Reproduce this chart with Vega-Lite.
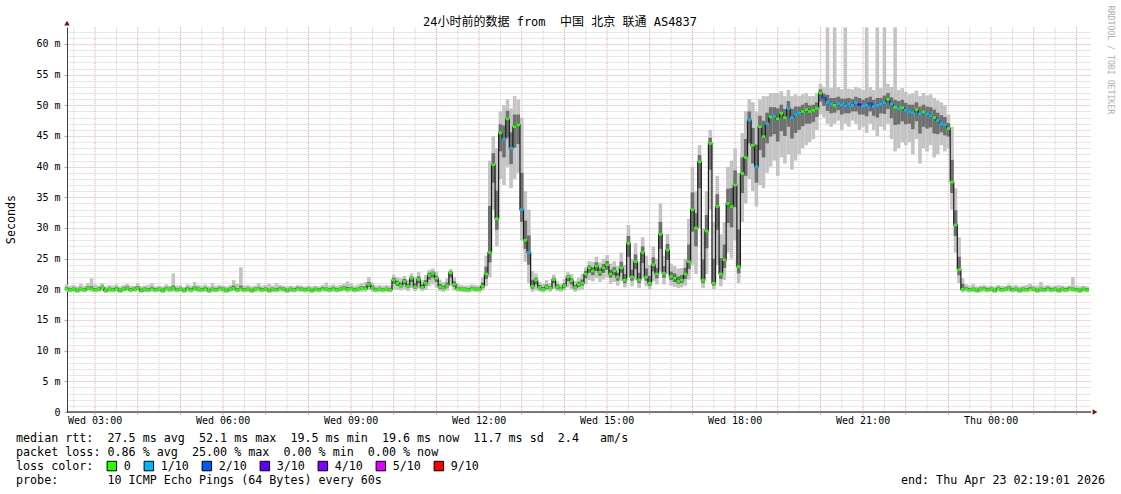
{
"$schema":"https://vega.github.io/schema/vega-lite/v6.json",
"width":1024,"height":385,"autosize":"none",
"padding":{"left":67,"top":27,"right":30,"bottom":82},
"background":"#ffffff",
"title":{"text":"24小时前的数据 from\u00a0\u00a0中国 北京 联通 AS4837","anchor":"middle","frame":"group","dx":-19,"dy":32,"offset":0,"baseline":"alphabetic","font":"DejaVu Sans Mono, Noto Sans CJK SC","fontSize":12,"fontWeight":"normal","color":"#000000"},
"config":{"view":{"stroke":null}},
"datasets":{
"gh":[{"t":"2026-04-22T03:00Z"},{"t":"2026-04-22T04:00Z"},{"t":"2026-04-22T05:00Z"},{"t":"2026-04-22T06:00Z"},{"t":"2026-04-22T07:00Z"},{"t":"2026-04-22T08:00Z"},{"t":"2026-04-22T09:00Z"},{"t":"2026-04-22T10:00Z"},{"t":"2026-04-22T11:00Z"},{"t":"2026-04-22T12:00Z"},{"t":"2026-04-22T13:00Z"},{"t":"2026-04-22T14:00Z"},{"t":"2026-04-22T15:00Z"},{"t":"2026-04-22T16:00Z"},{"t":"2026-04-22T17:00Z"},{"t":"2026-04-22T18:00Z"},{"t":"2026-04-22T19:00Z"},{"t":"2026-04-22T20:00Z"},{"t":"2026-04-22T21:00Z"},{"t":"2026-04-22T22:00Z"},{"t":"2026-04-22T23:00Z"},{"t":"2026-04-23T00:00Z"},{"t":"2026-04-23T01:00Z"},{"t":"2026-04-23T02:00Z"}],
"gm":[{"t":"2026-04-22T02:30Z"},{"t":"2026-04-22T03:30Z"},{"t":"2026-04-22T04:30Z"},{"t":"2026-04-22T05:30Z"},{"t":"2026-04-22T06:30Z"},{"t":"2026-04-22T07:30Z"},{"t":"2026-04-22T08:30Z"},{"t":"2026-04-22T09:30Z"},{"t":"2026-04-22T10:30Z"},{"t":"2026-04-22T11:30Z"},{"t":"2026-04-22T12:30Z"},{"t":"2026-04-22T13:30Z"},{"t":"2026-04-22T14:30Z"},{"t":"2026-04-22T15:30Z"},{"t":"2026-04-22T16:30Z"},{"t":"2026-04-22T17:30Z"},{"t":"2026-04-22T18:30Z"},{"t":"2026-04-22T19:30Z"},{"t":"2026-04-22T20:30Z"},{"t":"2026-04-22T21:30Z"},{"t":"2026-04-22T22:30Z"},{"t":"2026-04-22T23:30Z"},{"t":"2026-04-23T00:30Z"},{"t":"2026-04-23T01:30Z"}],
"xl":[{"t":"2026-04-22T03:00Z","s":"Wed 03:00"},{"t":"2026-04-22T06:00Z","s":"Wed 06:00"},{"t":"2026-04-22T09:00Z","s":"Wed 09:00"},{"t":"2026-04-22T12:00Z","s":"Wed 12:00"},{"t":"2026-04-22T15:00Z","s":"Wed 15:00"},{"t":"2026-04-22T18:00Z","s":"Wed 18:00"},{"t":"2026-04-22T21:00Z","s":"Wed 21:00"},{"t":"2026-04-23T00:00Z","s":"Thu 00:00"}],
"d":[
{"t":"2026-04-22T02:20Z","m":20.1,"a":19.6,"b":20.8,"c":19.9,"d":20.4,"l":"0"},
{"t":"2026-04-22T02:25Z","m":19.9,"a":19.5,"b":20.6,"c":19.7,"d":20.2,"l":"0"},
{"t":"2026-04-22T02:30Z","m":20.0,"a":19.6,"b":20.7,"c":19.8,"d":20.3,"l":"0"},
{"t":"2026-04-22T02:35Z","m":19.8,"a":19.4,"b":20.5,"c":19.6,"d":20.1,"l":"0"},
{"t":"2026-04-22T02:40Z","m":20.0,"a":19.6,"b":20.9,"c":19.8,"d":20.3,"l":"0"},
{"t":"2026-04-22T02:45Z","m":19.9,"a":19.5,"b":20.6,"c":19.7,"d":20.2,"l":"0"},
{"t":"2026-04-22T02:50Z","m":20.2,"a":19.7,"b":21.0,"c":20.0,"d":20.5,"l":"0"},
{"t":"2026-04-22T02:55Z","m":20.1,"a":19.6,"b":21.8,"c":19.9,"d":20.5,"l":"0"},
{"t":"2026-04-22T03:00Z","m":19.9,"a":19.5,"b":20.8,"c":19.7,"d":20.2,"l":"0"},
{"t":"2026-04-22T03:05Z","m":20.0,"a":19.6,"b":20.6,"c":19.8,"d":20.3,"l":"0"},
{"t":"2026-04-22T03:10Z","m":20.3,"a":19.7,"b":21.0,"c":20.1,"d":20.6,"l":"0"},
{"t":"2026-04-22T03:15Z","m":19.8,"a":19.4,"b":20.5,"c":19.6,"d":20.1,"l":"0"},
{"t":"2026-04-22T03:20Z","m":20.0,"a":19.5,"b":20.7,"c":19.8,"d":20.3,"l":"0"},
{"t":"2026-04-22T03:25Z","m":19.9,"a":19.5,"b":20.6,"c":19.7,"d":20.2,"l":"0"},
{"t":"2026-04-22T03:30Z","m":20.1,"a":19.6,"b":20.8,"c":19.9,"d":20.4,"l":"0"},
{"t":"2026-04-22T03:35Z","m":19.8,"a":19.4,"b":20.5,"c":19.6,"d":20.1,"l":"0"},
{"t":"2026-04-22T03:40Z","m":20.0,"a":19.6,"b":20.7,"c":19.8,"d":20.3,"l":"0"},
{"t":"2026-04-22T03:45Z","m":20.2,"a":19.7,"b":20.9,"c":20.0,"d":20.5,"l":"0"},
{"t":"2026-04-22T03:50Z","m":19.9,"a":19.5,"b":20.6,"c":19.7,"d":20.2,"l":"0"},
{"t":"2026-04-22T03:55Z","m":20.0,"a":19.6,"b":20.6,"c":19.8,"d":20.3,"l":"0"},
{"t":"2026-04-22T04:00Z","m":20.2,"a":19.6,"b":21.0,"c":20.0,"d":20.5,"l":"0"},
{"t":"2026-04-22T04:05Z","m":19.8,"a":19.4,"b":20.5,"c":19.6,"d":20.1,"l":"0"},
{"t":"2026-04-22T04:10Z","m":20.0,"a":19.5,"b":20.6,"c":19.8,"d":20.3,"l":"0"},
{"t":"2026-04-22T04:15Z","m":19.9,"a":19.5,"b":20.7,"c":19.7,"d":20.2,"l":"0"},
{"t":"2026-04-22T04:20Z","m":20.1,"a":19.6,"b":21.0,"c":19.9,"d":20.4,"l":"0"},
{"t":"2026-04-22T04:25Z","m":19.9,"a":19.5,"b":20.5,"c":19.7,"d":20.2,"l":"0"},
{"t":"2026-04-22T04:30Z","m":20.0,"a":19.6,"b":20.6,"c":19.8,"d":20.3,"l":"0"},
{"t":"2026-04-22T04:35Z","m":19.8,"a":19.4,"b":20.5,"c":19.6,"d":20.1,"l":"0"},
{"t":"2026-04-22T04:40Z","m":20.1,"a":19.6,"b":20.8,"c":19.9,"d":20.4,"l":"0"},
{"t":"2026-04-22T04:45Z","m":20.0,"a":19.5,"b":20.6,"c":19.8,"d":20.3,"l":"0"},
{"t":"2026-04-22T04:50Z","m":20.2,"a":19.6,"b":22.6,"c":20.0,"d":20.6,"l":"0"},
{"t":"2026-04-22T04:55Z","m":19.9,"a":19.5,"b":20.6,"c":19.7,"d":20.2,"l":"0"},
{"t":"2026-04-22T05:00Z","m":20.0,"a":19.6,"b":20.7,"c":19.8,"d":20.3,"l":"0"},
{"t":"2026-04-22T05:05Z","m":19.8,"a":19.4,"b":20.4,"c":19.6,"d":20.1,"l":"0"},
{"t":"2026-04-22T05:10Z","m":20.1,"a":19.6,"b":20.8,"c":19.9,"d":20.4,"l":"0"},
{"t":"2026-04-22T05:15Z","m":19.9,"a":19.5,"b":20.6,"c":19.7,"d":20.2,"l":"0"},
{"t":"2026-04-22T05:20Z","m":20.2,"a":19.7,"b":21.2,"c":20.0,"d":20.5,"l":"0"},
{"t":"2026-04-22T05:25Z","m":20.0,"a":19.5,"b":20.7,"c":19.8,"d":20.3,"l":"0"},
{"t":"2026-04-22T05:30Z","m":19.9,"a":19.5,"b":20.6,"c":19.7,"d":20.2,"l":"0"},
{"t":"2026-04-22T05:35Z","m":20.1,"a":19.6,"b":20.8,"c":19.9,"d":20.4,"l":"0"},
{"t":"2026-04-22T05:40Z","m":19.8,"a":19.4,"b":20.5,"c":19.6,"d":20.1,"l":"0"},
{"t":"2026-04-22T05:45Z","m":20.0,"a":19.5,"b":21.0,"c":19.8,"d":20.3,"l":"0"},
{"t":"2026-04-22T05:50Z","m":19.9,"a":19.5,"b":20.6,"c":19.7,"d":20.2,"l":"0"},
{"t":"2026-04-22T05:55Z","m":20.1,"a":19.6,"b":20.7,"c":19.9,"d":20.4,"l":"0"},
{"t":"2026-04-22T06:00Z","m":20.0,"a":19.5,"b":20.6,"c":19.8,"d":20.3,"l":"0"},
{"t":"2026-04-22T06:05Z","m":19.8,"a":19.4,"b":20.5,"c":19.6,"d":20.1,"l":"0"},
{"t":"2026-04-22T06:10Z","m":20.0,"a":19.6,"b":20.7,"c":19.8,"d":20.3,"l":"0"},
{"t":"2026-04-22T06:15Z","m":20.2,"a":19.7,"b":21.5,"c":20.0,"d":20.6,"l":"0"},
{"t":"2026-04-22T06:20Z","m":19.9,"a":19.5,"b":20.9,"c":19.7,"d":20.2,"l":"0"},
{"t":"2026-04-22T06:25Z","m":20.1,"a":19.6,"b":23.6,"c":19.9,"d":20.6,"l":"0"},
{"t":"2026-04-22T06:30Z","m":19.9,"a":19.5,"b":20.6,"c":19.7,"d":20.2,"l":"0"},
{"t":"2026-04-22T06:35Z","m":20.0,"a":19.6,"b":20.7,"c":19.8,"d":20.3,"l":"0"},
{"t":"2026-04-22T06:40Z","m":19.8,"a":19.4,"b":20.5,"c":19.6,"d":20.1,"l":"0"},
{"t":"2026-04-22T06:45Z","m":20.0,"a":19.5,"b":20.6,"c":19.8,"d":20.3,"l":"0"},
{"t":"2026-04-22T06:50Z","m":20.1,"a":19.6,"b":21.0,"c":19.9,"d":20.4,"l":"0"},
{"t":"2026-04-22T06:55Z","m":19.9,"a":19.5,"b":20.6,"c":19.7,"d":20.2,"l":"0"},
{"t":"2026-04-22T07:00Z","m":20.0,"a":19.6,"b":20.7,"c":19.8,"d":20.3,"l":"0"},
{"t":"2026-04-22T07:05Z","m":19.8,"a":19.4,"b":20.9,"c":19.6,"d":20.1,"l":"0"},
{"t":"2026-04-22T07:10Z","m":20.0,"a":19.5,"b":20.6,"c":19.8,"d":20.3,"l":"0"},
{"t":"2026-04-22T07:15Z","m":19.9,"a":19.5,"b":21.0,"c":19.7,"d":20.2,"l":"0"},
{"t":"2026-04-22T07:20Z","m":20.1,"a":19.6,"b":20.7,"c":19.9,"d":20.4,"l":"0"},
{"t":"2026-04-22T07:25Z","m":20.0,"a":19.6,"b":20.6,"c":19.8,"d":20.3,"l":"0"},
{"t":"2026-04-22T07:30Z","m":19.8,"a":19.4,"b":20.5,"c":19.6,"d":20.1,"l":"0"},
{"t":"2026-04-22T07:35Z","m":20.0,"a":19.5,"b":20.6,"c":19.8,"d":20.3,"l":"0"},
{"t":"2026-04-22T07:40Z","m":19.9,"a":19.5,"b":20.5,"c":19.7,"d":20.2,"l":"0"},
{"t":"2026-04-22T07:45Z","m":20.1,"a":19.6,"b":20.7,"c":19.9,"d":20.4,"l":"0"},
{"t":"2026-04-22T07:50Z","m":20.0,"a":19.6,"b":20.6,"c":19.8,"d":20.3,"l":"0"},
{"t":"2026-04-22T07:55Z","m":19.9,"a":19.5,"b":20.5,"c":19.7,"d":20.2,"l":"0"},
{"t":"2026-04-22T08:00Z","m":20.0,"a":19.5,"b":20.6,"c":19.8,"d":20.3,"l":"0"},
{"t":"2026-04-22T08:05Z","m":19.8,"a":19.4,"b":20.5,"c":19.6,"d":20.1,"l":"0"},
{"t":"2026-04-22T08:10Z","m":20.0,"a":19.6,"b":20.6,"c":19.8,"d":20.3,"l":"0"},
{"t":"2026-04-22T08:15Z","m":19.9,"a":19.5,"b":20.5,"c":19.7,"d":20.2,"l":"0"},
{"t":"2026-04-22T08:20Z","m":20.1,"a":19.6,"b":20.7,"c":19.9,"d":20.4,"l":"0"},
{"t":"2026-04-22T08:25Z","m":20.0,"a":19.6,"b":21.1,"c":19.8,"d":20.3,"l":"0"},
{"t":"2026-04-22T08:30Z","m":19.9,"a":19.5,"b":20.6,"c":19.7,"d":20.2,"l":"0"},
{"t":"2026-04-22T08:35Z","m":20.1,"a":19.6,"b":20.8,"c":19.9,"d":20.4,"l":"0"},
{"t":"2026-04-22T08:40Z","m":19.9,"a":19.5,"b":20.6,"c":19.7,"d":20.2,"l":"0"},
{"t":"2026-04-22T08:45Z","m":20.0,"a":19.6,"b":20.7,"c":19.8,"d":20.3,"l":"0"},
{"t":"2026-04-22T08:50Z","m":20.2,"a":19.7,"b":20.9,"c":20.0,"d":20.5,"l":"0"},
{"t":"2026-04-22T08:55Z","m":20.0,"a":19.5,"b":21.3,"c":19.8,"d":20.4,"l":"0"},
{"t":"2026-04-22T09:00Z","m":20.1,"a":19.6,"b":21.0,"c":19.9,"d":20.4,"l":"0"},
{"t":"2026-04-22T09:05Z","m":19.9,"a":19.5,"b":20.6,"c":19.7,"d":20.2,"l":"0"},
{"t":"2026-04-22T09:10Z","m":20.0,"a":19.6,"b":20.8,"c":19.8,"d":20.3,"l":"0"},
{"t":"2026-04-22T09:15Z","m":20.2,"a":19.6,"b":21.0,"c":20.0,"d":20.5,"l":"0"},
{"t":"2026-04-22T09:20Z","m":20.1,"a":19.6,"b":21.2,"c":19.9,"d":20.5,"l":"0"},
{"t":"2026-04-22T09:25Z","m":20.8,"a":19.9,"b":22.0,"c":20.4,"d":21.2,"l":"0"},
{"t":"2026-04-22T09:30Z","m":20.2,"a":19.6,"b":21.1,"c":20.0,"d":20.6,"l":"0"},
{"t":"2026-04-22T09:35Z","m":19.9,"a":19.5,"b":20.6,"c":19.7,"d":20.2,"l":"0"},
{"t":"2026-04-22T09:40Z","m":20.0,"a":19.6,"b":20.7,"c":19.8,"d":20.3,"l":"0"},
{"t":"2026-04-22T09:45Z","m":19.9,"a":19.5,"b":20.6,"c":19.7,"d":20.2,"l":"0"},
{"t":"2026-04-22T09:50Z","m":20.0,"a":19.6,"b":20.7,"c":19.8,"d":20.3,"l":"0"},
{"t":"2026-04-22T09:55Z","m":19.9,"a":19.5,"b":20.6,"c":19.7,"d":20.2,"l":"0"},
{"t":"2026-04-22T10:00Z","m":21.5,"a":20.0,"b":22.4,"c":20.9,"d":21.9,"l":"0"},
{"t":"2026-04-22T10:05Z","m":21.0,"a":19.9,"b":22.0,"c":20.6,"d":21.4,"l":"0"},
{"t":"2026-04-22T10:10Z","m":20.6,"a":19.8,"b":21.8,"c":20.3,"d":21.1,"l":"0"},
{"t":"2026-04-22T10:15Z","m":21.3,"a":20.0,"b":22.2,"c":20.8,"d":21.7,"l":"0"},
{"t":"2026-04-22T10:20Z","m":20.5,"a":19.7,"b":21.6,"c":20.2,"d":20.9,"l":"0"},
{"t":"2026-04-22T10:25Z","m":21.8,"a":20.2,"b":22.6,"c":21.2,"d":22.1,"l":"0"},
{"t":"2026-04-22T10:30Z","m":20.4,"a":19.7,"b":22.0,"c":20.1,"d":21.0,"l":"0"},
{"t":"2026-04-22T10:35Z","m":21.6,"a":20.1,"b":22.8,"c":21.0,"d":22.1,"l":"0"},
{"t":"2026-04-22T10:40Z","m":20.3,"a":19.7,"b":21.5,"c":20.1,"d":20.8,"l":"0"},
{"t":"2026-04-22T10:45Z","m":21.0,"a":19.9,"b":22.3,"c":20.6,"d":21.5,"l":"0"},
{"t":"2026-04-22T10:50Z","m":22.3,"a":20.5,"b":23.2,"c":21.6,"d":22.7,"l":"0"},
{"t":"2026-04-22T10:55Z","m":22.6,"a":20.8,"b":23.4,"c":21.9,"d":22.9,"l":"0"},
{"t":"2026-04-22T11:00Z","m":21.8,"a":20.3,"b":22.9,"c":21.2,"d":22.2,"l":"0"},
{"t":"2026-04-22T11:05Z","m":20.4,"a":19.7,"b":21.6,"c":20.1,"d":20.9,"l":"0"},
{"t":"2026-04-22T11:10Z","m":20.2,"a":19.6,"b":21.2,"c":20.0,"d":20.6,"l":"0"},
{"t":"2026-04-22T11:15Z","m":20.6,"a":19.8,"b":21.8,"c":20.3,"d":21.1,"l":"0"},
{"t":"2026-04-22T11:20Z","m":22.7,"a":20.6,"b":23.3,"c":21.9,"d":23.0,"l":"0"},
{"t":"2026-04-22T11:25Z","m":20.8,"a":19.8,"b":22.0,"c":20.4,"d":21.3,"l":"0"},
{"t":"2026-04-22T11:30Z","m":20.1,"a":19.6,"b":20.9,"c":19.9,"d":20.4,"l":"0"},
{"t":"2026-04-22T11:35Z","m":20.0,"a":19.6,"b":20.7,"c":19.8,"d":20.3,"l":"0"},
{"t":"2026-04-22T11:40Z","m":20.0,"a":19.5,"b":20.6,"c":19.8,"d":20.3,"l":"0"},
{"t":"2026-04-22T11:45Z","m":19.9,"a":19.5,"b":20.6,"c":19.7,"d":20.2,"l":"0"},
{"t":"2026-04-22T11:50Z","m":20.1,"a":19.6,"b":20.8,"c":19.9,"d":20.4,"l":"0"},
{"t":"2026-04-22T11:55Z","m":20.0,"a":19.6,"b":20.7,"c":19.8,"d":20.3,"l":"0"},
{"t":"2026-04-22T12:00Z","m":20.0,"a":19.5,"b":20.6,"c":19.8,"d":20.3,"l":"0"},
{"t":"2026-04-22T12:05Z","m":20.5,"a":19.8,"b":22.0,"c":20.2,"d":21.1,"l":"0"},
{"t":"2026-04-22T12:10Z","m":22.5,"a":20.5,"b":25.5,"c":21.7,"d":23.7,"l":"0"},
{"t":"2026-04-22T12:15Z","m":26.0,"a":22.0,"b":41.0,"c":24.4,"d":33.6,"l":"0"},
{"t":"2026-04-22T12:20Z","m":40.3,"a":33.0,"b":45.0,"c":37.4,"d":42.2,"l":"0"},
{"t":"2026-04-22T12:25Z","m":31.5,"a":27.0,"b":43.0,"c":29.7,"d":36.1,"l":"0"},
{"t":"2026-04-22T12:30Z","m":45.5,"a":38.0,"b":49.0,"c":42.5,"d":46.9,"l":"0"},
{"t":"2026-04-22T12:35Z","m":44.5,"a":37.0,"b":50.0,"c":41.5,"d":46.7,"l":"1/10"},
{"t":"2026-04-22T12:40Z","m":47.8,"a":40.0,"b":51.0,"c":44.7,"d":49.1,"l":"0"},
{"t":"2026-04-22T12:45Z","m":43.0,"a":36.5,"b":49.5,"c":40.4,"d":45.6,"l":"1/10"},
{"t":"2026-04-22T12:50Z","m":46.5,"a":38.0,"b":51.5,"c":43.1,"d":48.5,"l":"0"},
{"t":"2026-04-22T12:55Z","m":46.8,"a":39.0,"b":51.0,"c":43.7,"d":48.5,"l":"0"},
{"t":"2026-04-22T13:00Z","m":33.0,"a":28.0,"b":48.0,"c":31.0,"d":39.0,"l":"1/10"},
{"t":"2026-04-22T13:05Z","m":28.0,"a":24.5,"b":36.0,"c":26.6,"d":31.2,"l":"0"},
{"t":"2026-04-22T13:10Z","m":26.0,"a":21.0,"b":33.0,"c":24.0,"d":28.8,"l":"1/10"},
{"t":"2026-04-22T13:15Z","m":20.5,"a":19.6,"b":23.0,"c":20.1,"d":21.5,"l":"0"},
{"t":"2026-04-22T13:20Z","m":21.5,"a":19.8,"b":22.6,"c":20.8,"d":21.9,"l":"0"},
{"t":"2026-04-22T13:25Z","m":20.3,"a":19.6,"b":21.2,"c":20.0,"d":20.7,"l":"0"},
{"t":"2026-04-22T13:30Z","m":20.0,"a":19.5,"b":20.9,"c":19.8,"d":20.4,"l":"0"},
{"t":"2026-04-22T13:35Z","m":20.4,"a":19.7,"b":21.5,"c":20.1,"d":20.8,"l":"0"},
{"t":"2026-04-22T13:40Z","m":20.2,"a":19.6,"b":21.0,"c":20.0,"d":20.5,"l":"0"},
{"t":"2026-04-22T13:45Z","m":21.6,"a":20.1,"b":22.4,"c":21.0,"d":21.9,"l":"0"},
{"t":"2026-04-22T13:50Z","m":20.4,"a":19.7,"b":21.3,"c":20.1,"d":20.8,"l":"0"},
{"t":"2026-04-22T13:55Z","m":20.1,"a":19.6,"b":20.9,"c":19.9,"d":20.4,"l":"0"},
{"t":"2026-04-22T14:00Z","m":20.6,"a":19.8,"b":21.7,"c":20.3,"d":21.0,"l":"0"},
{"t":"2026-04-22T14:05Z","m":22.0,"a":20.3,"b":22.8,"c":21.3,"d":22.3,"l":"0"},
{"t":"2026-04-22T14:10Z","m":21.4,"a":20.0,"b":22.5,"c":20.8,"d":21.8,"l":"0"},
{"t":"2026-04-22T14:15Z","m":20.3,"a":19.6,"b":21.4,"c":20.0,"d":20.7,"l":"0"},
{"t":"2026-04-22T14:20Z","m":20.8,"a":19.8,"b":21.9,"c":20.4,"d":21.2,"l":"0"},
{"t":"2026-04-22T14:25Z","m":21.0,"a":19.9,"b":22.5,"c":20.6,"d":21.6,"l":"0"},
{"t":"2026-04-22T14:30Z","m":22.5,"a":20.8,"b":23.6,"c":21.8,"d":23.0,"l":"0"},
{"t":"2026-04-22T14:35Z","m":23.5,"a":21.5,"b":24.6,"c":22.7,"d":23.9,"l":"0"},
{"t":"2026-04-22T14:40Z","m":23.0,"a":21.3,"b":24.5,"c":22.3,"d":23.6,"l":"0"},
{"t":"2026-04-22T14:45Z","m":23.8,"a":21.8,"b":25.3,"c":23.0,"d":24.4,"l":"0"},
{"t":"2026-04-22T14:50Z","m":22.8,"a":21.2,"b":24.4,"c":22.2,"d":23.4,"l":"0"},
{"t":"2026-04-22T14:55Z","m":23.5,"a":21.6,"b":25.0,"c":22.7,"d":24.1,"l":"0"},
{"t":"2026-04-22T15:00Z","m":24.0,"a":22.0,"b":25.6,"c":23.2,"d":24.6,"l":"0"},
{"t":"2026-04-22T15:05Z","m":22.5,"a":20.9,"b":24.2,"c":21.9,"d":23.2,"l":"0"},
{"t":"2026-04-22T15:10Z","m":23.0,"a":21.2,"b":24.6,"c":22.3,"d":23.6,"l":"0"},
{"t":"2026-04-22T15:15Z","m":22.0,"a":20.6,"b":23.8,"c":21.4,"d":22.7,"l":"0"},
{"t":"2026-04-22T15:20Z","m":23.5,"a":21.4,"b":26.0,"c":22.7,"d":24.5,"l":"0"},
{"t":"2026-04-22T15:25Z","m":21.5,"a":20.3,"b":24.0,"c":21.0,"d":22.5,"l":"0"},
{"t":"2026-04-22T15:30Z","m":27.5,"a":22.0,"b":30.5,"c":25.3,"d":28.7,"l":"0"},
{"t":"2026-04-22T15:35Z","m":22.0,"a":20.5,"b":25.0,"c":21.4,"d":23.2,"l":"0"},
{"t":"2026-04-22T15:40Z","m":24.5,"a":21.5,"b":27.5,"c":23.3,"d":25.7,"l":"0"},
{"t":"2026-04-22T15:45Z","m":21.5,"a":20.2,"b":24.5,"c":21.0,"d":22.7,"l":"0"},
{"t":"2026-04-22T15:50Z","m":26.0,"a":21.8,"b":28.5,"c":24.3,"d":27.0,"l":"0"},
{"t":"2026-04-22T15:55Z","m":22.0,"a":20.5,"b":25.5,"c":21.4,"d":23.4,"l":"0"},
{"t":"2026-04-22T16:00Z","m":21.0,"a":20.0,"b":24.0,"c":20.6,"d":22.2,"l":"0"},
{"t":"2026-04-22T16:05Z","m":24.0,"a":21.3,"b":27.0,"c":22.9,"d":25.2,"l":"0"},
{"t":"2026-04-22T16:10Z","m":22.5,"a":20.8,"b":25.0,"c":21.8,"d":23.5,"l":"0"},
{"t":"2026-04-22T16:15Z","m":29.0,"a":23.0,"b":34.0,"c":26.6,"d":31.0,"l":"0"},
{"t":"2026-04-22T16:20Z","m":22.6,"a":20.8,"b":25.5,"c":21.9,"d":23.8,"l":"0"},
{"t":"2026-04-22T16:25Z","m":26.4,"a":22.5,"b":29.0,"c":24.8,"d":27.4,"l":"0"},
{"t":"2026-04-22T16:30Z","m":22.1,"a":20.6,"b":24.2,"c":21.5,"d":22.9,"l":"0"},
{"t":"2026-04-22T16:35Z","m":21.8,"a":20.4,"b":23.8,"c":21.2,"d":22.6,"l":"0"},
{"t":"2026-04-22T16:40Z","m":21.3,"a":20.2,"b":23.4,"c":20.9,"d":22.1,"l":"0"},
{"t":"2026-04-22T16:45Z","m":21.5,"a":20.3,"b":23.5,"c":21.0,"d":22.3,"l":"0"},
{"t":"2026-04-22T16:50Z","m":22.5,"a":20.6,"b":25.0,"c":21.7,"d":23.5,"l":"0"},
{"t":"2026-04-22T16:55Z","m":24.5,"a":21.6,"b":31.5,"c":23.3,"d":27.3,"l":"0"},
{"t":"2026-04-22T17:00Z","m":33.0,"a":24.0,"b":40.0,"c":29.4,"d":35.8,"l":"0"},
{"t":"2026-04-22T17:05Z","m":30.0,"a":22.5,"b":36.0,"c":27.0,"d":32.4,"l":"0"},
{"t":"2026-04-22T17:10Z","m":40.8,"a":30.0,"b":43.5,"c":36.5,"d":41.9,"l":"0"},
{"t":"2026-04-22T17:15Z","m":21.5,"a":20.2,"b":30.0,"c":21.0,"d":24.9,"l":"0"},
{"t":"2026-04-22T17:20Z","m":29.5,"a":22.5,"b":36.0,"c":26.7,"d":32.1,"l":"0"},
{"t":"2026-04-22T17:25Z","m":43.8,"a":33.0,"b":46.0,"c":39.5,"d":44.7,"l":"0"},
{"t":"2026-04-22T17:30Z","m":21.0,"a":20.0,"b":31.0,"c":20.6,"d":25.0,"l":"0"},
{"t":"2026-04-22T17:35Z","m":33.5,"a":24.0,"b":38.5,"c":29.7,"d":35.5,"l":"0"},
{"t":"2026-04-22T17:40Z","m":22.5,"a":20.5,"b":29.0,"c":21.7,"d":25.1,"l":"0"},
{"t":"2026-04-22T17:45Z","m":24.8,"a":21.5,"b":31.0,"c":23.5,"d":27.3,"l":"0"},
{"t":"2026-04-22T17:50Z","m":34.0,"a":26.0,"b":40.0,"c":30.8,"d":36.4,"l":"0"},
{"t":"2026-04-22T17:55Z","m":33.5,"a":25.0,"b":41.0,"c":30.1,"d":36.5,"l":"0"},
{"t":"2026-04-22T18:00Z","m":37.0,"a":28.0,"b":43.0,"c":33.4,"d":39.4,"l":"0"},
{"t":"2026-04-22T18:05Z","m":23.7,"a":21.0,"b":39.0,"c":22.6,"d":29.8,"l":"0"},
{"t":"2026-04-22T18:10Z","m":38.9,"a":31.0,"b":45.5,"c":35.7,"d":41.5,"l":"0"},
{"t":"2026-04-22T18:15Z","m":41.5,"a":34.0,"b":49.0,"c":38.5,"d":44.5,"l":"0"},
{"t":"2026-04-22T18:20Z","m":47.6,"a":38.0,"b":51.0,"c":43.8,"d":49.0,"l":"1/10"},
{"t":"2026-04-22T18:25Z","m":43.5,"a":36.0,"b":50.5,"c":40.5,"d":46.3,"l":"0"},
{"t":"2026-04-22T18:30Z","m":40.0,"a":33.5,"b":49.0,"c":37.4,"d":43.6,"l":"1/10"},
{"t":"2026-04-22T18:35Z","m":46.5,"a":37.0,"b":51.0,"c":42.7,"d":48.3,"l":"0"},
{"t":"2026-04-22T18:40Z","m":44.9,"a":36.5,"b":51.5,"c":41.5,"d":47.5,"l":"0"},
{"t":"2026-04-22T18:45Z","m":47.0,"a":39.0,"b":51.5,"c":43.8,"d":48.8,"l":"1/10"},
{"t":"2026-04-22T18:50Z","m":48.1,"a":40.0,"b":52.0,"c":44.9,"d":49.7,"l":"0"},
{"t":"2026-04-22T18:55Z","m":48.2,"a":41.0,"b":52.0,"c":45.3,"d":49.7,"l":"1/10"},
{"t":"2026-04-22T19:00Z","m":47.8,"a":38.5,"b":52.0,"c":44.1,"d":49.5,"l":"0"},
{"t":"2026-04-22T19:05Z","m":48.7,"a":41.5,"b":52.3,"c":45.8,"d":50.1,"l":"0"},
{"t":"2026-04-22T19:10Z","m":48.0,"a":40.5,"b":51.5,"c":45.0,"d":49.4,"l":"0"},
{"t":"2026-04-22T19:15Z","m":49.5,"a":42.0,"b":52.5,"c":46.5,"d":50.7,"l":"1/10"},
{"t":"2026-04-22T19:20Z","m":48.0,"a":39.5,"b":51.5,"c":44.6,"d":49.4,"l":"1/10"},
{"t":"2026-04-22T19:25Z","m":48.5,"a":41.0,"b":51.8,"c":45.5,"d":49.8,"l":"1/10"},
{"t":"2026-04-22T19:30Z","m":48.7,"a":42.0,"b":51.5,"c":46.0,"d":49.8,"l":"1/10"},
{"t":"2026-04-22T19:35Z","m":49.0,"a":43.0,"b":51.8,"c":46.6,"d":50.1,"l":"0"},
{"t":"2026-04-22T19:40Z","m":49.3,"a":43.5,"b":52.0,"c":47.0,"d":50.4,"l":"0"},
{"t":"2026-04-22T19:45Z","m":49.0,"a":44.0,"b":51.5,"c":47.0,"d":50.0,"l":"0"},
{"t":"2026-04-22T19:50Z","m":49.2,"a":44.5,"b":51.5,"c":47.3,"d":50.1,"l":"0"},
{"t":"2026-04-22T19:55Z","m":49.5,"a":46.0,"b":52.0,"c":48.1,"d":50.5,"l":"0"},
{"t":"2026-04-22T20:00Z","m":52.0,"a":48.5,"b":53.5,"c":50.6,"d":52.6,"l":"0"},
{"t":"2026-04-22T20:05Z","m":51.2,"a":48.0,"b":53.0,"c":49.9,"d":51.9,"l":"2/10"},
{"t":"2026-04-22T20:10Z","m":50.5,"a":47.0,"b":62.7,"c":49.1,"d":51.7,"l":"1/10"},
{"t":"2026-04-22T20:15Z","m":50.2,"a":46.5,"b":52.8,"c":48.7,"d":51.2,"l":"1/10"},
{"t":"2026-04-22T20:20Z","m":50.0,"a":47.0,"b":62.7,"c":48.8,"d":51.2,"l":"0"},
{"t":"2026-04-22T20:25Z","m":50.3,"a":47.5,"b":53.0,"c":49.2,"d":51.4,"l":"1/10"},
{"t":"2026-04-22T20:30Z","m":50.1,"a":46.0,"b":52.6,"c":48.5,"d":51.1,"l":"1/10"},
{"t":"2026-04-22T20:35Z","m":49.9,"a":47.0,"b":62.7,"c":48.7,"d":51.1,"l":"1/10"},
{"t":"2026-04-22T20:40Z","m":50.2,"a":46.5,"b":52.7,"c":48.7,"d":51.2,"l":"1/10"},
{"t":"2026-04-22T20:45Z","m":50.0,"a":47.5,"b":52.6,"c":49.0,"d":51.0,"l":"1/10"},
{"t":"2026-04-22T20:50Z","m":50.4,"a":47.0,"b":53.0,"c":49.0,"d":51.4,"l":"1/10"},
{"t":"2026-04-22T20:55Z","m":50.1,"a":46.0,"b":52.8,"c":48.5,"d":51.2,"l":"3/10"},
{"t":"2026-04-22T21:00Z","m":49.9,"a":46.5,"b":52.5,"c":48.5,"d":50.9,"l":"1/10"},
{"t":"2026-04-22T21:05Z","m":50.0,"a":45.5,"b":62.7,"c":48.2,"d":51.2,"l":"1/10"},
{"t":"2026-04-22T21:10Z","m":50.3,"a":47.0,"b":53.0,"c":49.0,"d":51.4,"l":"2/10"},
{"t":"2026-04-22T21:15Z","m":49.8,"a":46.0,"b":52.5,"c":48.3,"d":50.9,"l":"1/10"},
{"t":"2026-04-22T21:20Z","m":50.0,"a":45.0,"b":62.7,"c":48.0,"d":51.2,"l":"1/10"},
{"t":"2026-04-22T21:25Z","m":50.2,"a":46.5,"b":52.8,"c":48.7,"d":51.2,"l":"1/10"},
{"t":"2026-04-22T21:30Z","m":50.4,"a":46.0,"b":62.7,"c":48.6,"d":51.6,"l":"1/10"},
{"t":"2026-04-22T21:35Z","m":51.0,"a":47.0,"b":53.5,"c":49.4,"d":52.0,"l":"0"},
{"t":"2026-04-22T21:40Z","m":50.2,"a":44.5,"b":53.0,"c":47.9,"d":51.3,"l":"1/10"},
{"t":"2026-04-22T21:45Z","m":49.7,"a":42.5,"b":62.7,"c":46.8,"d":50.9,"l":"0"},
{"t":"2026-04-22T21:50Z","m":49.5,"a":43.0,"b":52.5,"c":46.9,"d":50.7,"l":"1/10"},
{"t":"2026-04-22T21:55Z","m":49.6,"a":44.0,"b":52.8,"c":47.4,"d":50.9,"l":"0"},
{"t":"2026-04-22T22:00Z","m":49.2,"a":43.5,"b":52.2,"c":46.9,"d":50.4,"l":"1/10"},
{"t":"2026-04-22T22:05Z","m":49.0,"a":44.0,"b":51.8,"c":47.0,"d":50.1,"l":"1/10"},
{"t":"2026-04-22T22:10Z","m":48.8,"a":42.0,"b":52.0,"c":46.1,"d":50.1,"l":"1/10"},
{"t":"2026-04-22T22:15Z","m":49.3,"a":44.5,"b":52.4,"c":47.4,"d":50.5,"l":"0"},
{"t":"2026-04-22T22:20Z","m":48.6,"a":40.5,"b":51.5,"c":45.4,"d":49.8,"l":"1/10"},
{"t":"2026-04-22T22:25Z","m":48.9,"a":43.0,"b":52.0,"c":46.5,"d":50.1,"l":"0"},
{"t":"2026-04-22T22:30Z","m":48.6,"a":42.5,"b":51.6,"c":46.2,"d":49.8,"l":"1/10"},
{"t":"2026-04-22T22:35Z","m":48.3,"a":43.5,"b":51.8,"c":46.4,"d":49.7,"l":"1/10"},
{"t":"2026-04-22T22:40Z","m":48.0,"a":41.5,"b":51.2,"c":45.4,"d":49.3,"l":"0"},
{"t":"2026-04-22T22:45Z","m":47.5,"a":42.0,"b":50.8,"c":45.3,"d":48.8,"l":"1/10"},
{"t":"2026-04-22T22:50Z","m":47.0,"a":43.5,"b":50.5,"c":45.6,"d":48.4,"l":"1/10"},
{"t":"2026-04-22T22:55Z","m":46.8,"a":42.5,"b":50.0,"c":45.1,"d":48.1,"l":"1/10"},
{"t":"2026-04-22T23:00Z","m":46.2,"a":43.0,"b":48.5,"c":44.9,"d":47.1,"l":"0"},
{"t":"2026-04-22T23:05Z","m":37.5,"a":33.0,"b":46.5,"c":35.7,"d":41.1,"l":"0"},
{"t":"2026-04-22T23:10Z","m":30.5,"a":26.0,"b":36.5,"c":28.7,"d":32.9,"l":"0"},
{"t":"2026-04-22T23:15Z","m":23.2,"a":21.0,"b":28.5,"c":22.3,"d":25.3,"l":"0"},
{"t":"2026-04-22T23:20Z","m":20.0,"a":19.5,"b":21.8,"c":19.8,"d":20.9,"l":"0"},
{"t":"2026-04-22T23:25Z","m":20.1,"a":19.6,"b":20.8,"c":19.9,"d":20.4,"l":"0"},
{"t":"2026-04-22T23:30Z","m":19.9,"a":19.5,"b":20.6,"c":19.7,"d":20.2,"l":"0"},
{"t":"2026-04-22T23:35Z","m":20.0,"a":19.6,"b":20.9,"c":19.8,"d":20.3,"l":"0"},
{"t":"2026-04-22T23:40Z","m":19.8,"a":19.4,"b":20.5,"c":19.6,"d":20.1,"l":"0"},
{"t":"2026-04-22T23:45Z","m":20.0,"a":19.5,"b":20.6,"c":19.8,"d":20.3,"l":"0"},
{"t":"2026-04-22T23:50Z","m":20.1,"a":19.6,"b":20.7,"c":19.9,"d":20.4,"l":"0"},
{"t":"2026-04-22T23:55Z","m":19.9,"a":19.5,"b":20.5,"c":19.7,"d":20.2,"l":"0"},
{"t":"2026-04-23T00:00Z","m":20.0,"a":19.6,"b":20.6,"c":19.8,"d":20.3,"l":"0"},
{"t":"2026-04-23T00:05Z","m":19.8,"a":19.4,"b":20.5,"c":19.6,"d":20.1,"l":"0"},
{"t":"2026-04-23T00:10Z","m":20.1,"a":19.6,"b":20.7,"c":19.9,"d":20.4,"l":"0"},
{"t":"2026-04-23T00:15Z","m":19.9,"a":19.5,"b":20.6,"c":19.7,"d":20.2,"l":"0"},
{"t":"2026-04-23T00:20Z","m":20.0,"a":19.6,"b":20.5,"c":19.8,"d":20.3,"l":"0"},
{"t":"2026-04-23T00:25Z","m":20.2,"a":19.6,"b":20.8,"c":20.0,"d":20.5,"l":"0"},
{"t":"2026-04-23T00:30Z","m":19.9,"a":19.5,"b":20.6,"c":19.7,"d":20.2,"l":"0"},
{"t":"2026-04-23T00:35Z","m":20.0,"a":19.6,"b":20.7,"c":19.8,"d":20.3,"l":"0"},
{"t":"2026-04-23T00:40Z","m":19.8,"a":19.4,"b":20.5,"c":19.6,"d":20.1,"l":"0"},
{"t":"2026-04-23T00:45Z","m":20.0,"a":19.5,"b":20.6,"c":19.8,"d":20.3,"l":"0"},
{"t":"2026-04-23T00:50Z","m":19.9,"a":19.5,"b":20.7,"c":19.7,"d":20.2,"l":"0"},
{"t":"2026-04-23T00:55Z","m":20.1,"a":19.6,"b":20.9,"c":19.9,"d":20.4,"l":"0"},
{"t":"2026-04-23T01:00Z","m":20.0,"a":19.6,"b":20.6,"c":19.8,"d":20.3,"l":"0"},
{"t":"2026-04-23T01:05Z","m":19.8,"a":19.4,"b":20.6,"c":19.6,"d":20.1,"l":"0"},
{"t":"2026-04-23T01:10Z","m":20.0,"a":19.5,"b":21.2,"c":19.8,"d":20.3,"l":"0"},
{"t":"2026-04-23T01:15Z","m":19.9,"a":19.5,"b":20.6,"c":19.7,"d":20.2,"l":"0"},
{"t":"2026-04-23T01:20Z","m":20.1,"a":19.6,"b":20.7,"c":19.9,"d":20.4,"l":"0"},
{"t":"2026-04-23T01:25Z","m":19.9,"a":19.5,"b":20.5,"c":19.7,"d":20.2,"l":"0"},
{"t":"2026-04-23T01:30Z","m":20.0,"a":19.6,"b":20.6,"c":19.8,"d":20.3,"l":"0"},
{"t":"2026-04-23T01:35Z","m":19.8,"a":19.4,"b":20.7,"c":19.6,"d":20.1,"l":"0"},
{"t":"2026-04-23T01:40Z","m":20.0,"a":19.5,"b":20.6,"c":19.8,"d":20.3,"l":"0"},
{"t":"2026-04-23T01:45Z","m":19.9,"a":19.5,"b":20.5,"c":19.7,"d":20.2,"l":"0"},
{"t":"2026-04-23T01:50Z","m":20.1,"a":19.6,"b":20.6,"c":19.9,"d":20.4,"l":"0"},
{"t":"2026-04-23T01:55Z","m":20.0,"a":19.6,"b":22.0,"c":19.8,"d":20.3,"l":"0"},
{"t":"2026-04-23T02:00Z","m":19.9,"a":19.5,"b":20.6,"c":19.7,"d":20.2,"l":"0"},
{"t":"2026-04-23T02:05Z","m":19.8,"a":19.4,"b":20.5,"c":19.6,"d":20.1,"l":"0"},
{"t":"2026-04-23T02:10Z","m":20.0,"a":19.6,"b":20.6,"c":19.8,"d":20.3,"l":"0"},
{"t":"2026-04-23T02:15Z","m":19.9,"a":19.5,"b":20.5,"c":19.7,"d":20.2,"l":"0"}
]},
"data":{"name":"d"},
"resolve":{"scale":{"x":"shared","y":"shared"},"axis":{"y":"independent"}},
"layer":[
{"data":{"name":"gm"},
 "mark":{"type":"rule","strokeWidth":1,"strokeDash":[1,1],"color":"#d0d0d0"},
 "encoding":{"x":{"field":"t","type":"temporal","scale":{"type":"utc","domain":[1776824430000,1776910830000]},"axis":null}}},
{"data":{"name":"gh"},
 "mark":{"type":"rule","strokeWidth":1,"strokeDash":[1,1],"color":"#f0a8a8"},
 "encoding":{"x":{"field":"t","type":"temporal","axis":null}}},
{"mark":{"type":"rule","strokeWidth":3.6,"color":"#c4c4c4"},
 "encoding":{
  "x":{"field":"t","type":"temporal","axis":null},
  "y":{"field":"a","type":"quantitative","scale":{"domain":[0,62.77],"nice":false,"zero":false},
   "axis":{"orient":"left",
    "values":[0,1,2,3,4,5,6,7,8,9,10,11,12,13,14,15,16,17,18,19,20,21,22,23,24,25,26,27,28,29,30,31,32,33,34,35,36,37,38,39,40,41,42,43,44,45,46,47,48,49,50,51,52,53,54,55,56,57,58,59,60,61,62],
    "labelExpr":"datum.value % 5 == 0 ? (datum.value == 0 ? '0\u00a0\u00a0' : datum.value + ' m') : ''",
    "labelFont":"DejaVu Sans Mono","labelFontSize":10,"labelColor":"#000000","labelPadding":4,"labelOverlap":false,"labelFlush":false,"labelBound":false,
    "grid":true,"gridColor":{"condition":{"test":"datum.value % 5 == 0","value":"#f0a8a8"},"value":"#d0d0d0"},"gridDash":[1,1],"gridOpacity":1,"gridWidth":1,
    "ticks":true,"tickSize":3,"tickColor":{"condition":{"test":"datum.value % 5 == 0","value":"#e09090"},"value":"transparent"},
    "domain":true,"domainColor":"#404040","domainWidth":1,
    "title":"Seconds","titleFont":"DejaVu Sans Mono","titleFontSize":11.7,"titleFontWeight":"normal","titleColor":"#000000","titleAngle":270,"titleX":-57,"titleY":192,"titleAlign":"center","titleBaseline":"middle"}},
  "y2":{"field":"b"}}},
{"mark":{"type":"rule","strokeWidth":3.6,"color":"#707070"},
 "encoding":{"x":{"field":"t","type":"temporal","axis":null},"y":{"field":"c","type":"quantitative","axis":null},"y2":{"field":"d"}}},
{"mark":{"type":"line","interpolate":"step","strokeWidth":1.2,"color":"#1a1a1a"},
 "encoding":{"x":{"field":"t","type":"temporal","axis":null},"y":{"field":"m","type":"quantitative","axis":null}}},
{"mark":{"type":"tick","orient":"horizontal","thickness":2.6,"size":3.8,"opacity":1},
 "encoding":{"x":{"field":"t","type":"temporal","axis":null},"y":{"field":"m","type":"quantitative","axis":null},
  "color":{"field":"l","type":"nominal",
   "scale":{"domain":["0","1/10","2/10","3/10","4/10","5/10","9/10"],"range":["#26ff00","#00b8ff","#0059ff","#5e00ff","#7e00ff","#dd00ff","#ff0000"]},
   "legend":{"title":"loss color:","orient":"none","legendX":-51,"legendY":433,"direction":"horizontal","padding":0,
    "titleOrient":"left","titlePadding":12,"titleFont":"DejaVu Sans Mono","titleFontSize":11.7,"titleFontWeight":"normal","titleColor":"#000000",
    "labelFont":"DejaVu Sans Mono","labelFontSize":11.7,"labelColor":"#000000","labelOffset":6,"columnPadding":11,
    "symbolType":"square","symbolSize":90,"symbolStrokeColor":"#000000","symbolStrokeWidth":1,"symbolOpacity":1}}}},
{"data":{"values":[{}]},
 "mark":{"type":"rule","strokeWidth":1,"color":"#000000"},
 "encoding":{"y":{"datum":0,"type":"quantitative","axis":null}}},
{"data":{"name":"gh"},
 "mark":{"type":"rule","strokeWidth":1,"color":"#e09090"},
 "encoding":{"x":{"field":"t","type":"temporal","axis":null},"y":{"datum":0,"type":"quantitative","axis":null},"y2":{"datum":-0.45}}},
{"data":{"name":"xl"},
 "mark":{"type":"text","align":"center","baseline":"top","dy":4,"font":"DejaVu Sans Mono","fontSize":10,"color":"#000000"},
 "encoding":{"x":{"field":"t","type":"temporal","axis":null},"y":{"datum":0,"type":"quantitative","axis":null},"text":{"field":"s"}}},
{"data":{"values":[{}]},
 "mark":{"type":"point","shape":"triangle-up","filled":true,"size":30,"color":"#7a1010","opacity":1},
 "encoding":{"x":{"datum":{"year":2026,"month":4,"date":22,"hours":2,"minutes":20,"seconds":30,"utc":true},"type":"temporal","axis":null},"y":{"datum":63.4,"type":"quantitative","axis":null}}},
{"data":{"values":[{}]},
 "mark":{"type":"point","shape":"triangle-right","filled":true,"size":30,"color":"#7a1010","opacity":1},
 "encoding":{"x":{"datum":{"year":2026,"month":4,"date":23,"hours":2,"minutes":26,"seconds":8,"utc":true},"type":"temporal","axis":null},"y":{"datum":0,"type":"quantitative","axis":null}}},
{"data":{"values":[{"s":"RRDTOOL / TOBI OETIKER"}]},
 "mark":{"type":"text","angle":90,"align":"center","baseline":"middle","font":"DejaVu Sans Mono","fontSize":8.2,"color":"#b0b0b0"},
 "encoding":{"x":{"datum":{"year":2026,"month":4,"date":23,"hours":2,"minutes":47,"seconds":13,"utc":true},"type":"temporal","axis":null},"y":{"datum":57.4,"type":"quantitative","axis":null},"text":{"field":"s"}}},
{"data":{"values":[{"s":"median rtt:\u00a0\u00a027.5 ms avg\u00a0\u00a052.1 ms max\u00a0\u00a019.5 ms min\u00a0\u00a019.6 ms now\u00a0\u00a011.7 ms sd\u00a0\u00a02.4\u00a0\u00a0\u00a0am/s"}]},
 "mark":{"type":"text","align":"left","baseline":"middle","font":"DejaVu Sans Mono","fontSize":11.7,"color":"#000000"},
 "encoding":{"x":{"datum":{"year":2026,"month":4,"date":22,"hours":1,"minutes":8,"seconds":47,"utc":true},"type":"temporal","axis":null},"y":{"datum":-4.24,"type":"quantitative","axis":null},"text":{"field":"s"}}},
{"data":{"values":[{"s":"packet loss: 0.86 % avg\u00a0\u00a025.00 % max\u00a0\u00a00.00 % min\u00a0\u00a00.00 % now"}]},
 "mark":{"type":"text","align":"left","baseline":"middle","font":"DejaVu Sans Mono","fontSize":11.7,"color":"#000000"},
 "encoding":{"x":{"datum":{"year":2026,"month":4,"date":22,"hours":1,"minutes":8,"seconds":47,"utc":true},"type":"temporal","axis":null},"y":{"datum":-6.52,"type":"quantitative","axis":null},"text":{"field":"s"}}},
{"data":{"values":[{"s":"probe:\u00a0\u00a0\u00a0\u00a0\u00a0\u00a0\u00a010 ICMP Echo Pings (64 Bytes) every 60s"}]},
 "mark":{"type":"text","align":"left","baseline":"middle","font":"DejaVu Sans Mono","fontSize":11.7,"color":"#000000"},
 "encoding":{"x":{"datum":{"year":2026,"month":4,"date":22,"hours":1,"minutes":8,"seconds":47,"utc":true},"type":"temporal","axis":null},"y":{"datum":-11.09,"type":"quantitative","axis":null},"text":{"field":"s"}}},
{"data":{"values":[{"s":"end: Thu Apr 23 02:19:01 2026"}]},
 "mark":{"type":"text","align":"right","baseline":"middle","font":"DejaVu Sans Mono","fontSize":11.7,"color":"#000000"},
 "encoding":{"x":{"datum":{"year":2026,"month":4,"date":23,"hours":2,"minutes":40,"seconds":11,"utc":true},"type":"temporal","axis":null},"y":{"datum":-11.09,"type":"quantitative","axis":null},"text":{"field":"s"}}}
]
}
